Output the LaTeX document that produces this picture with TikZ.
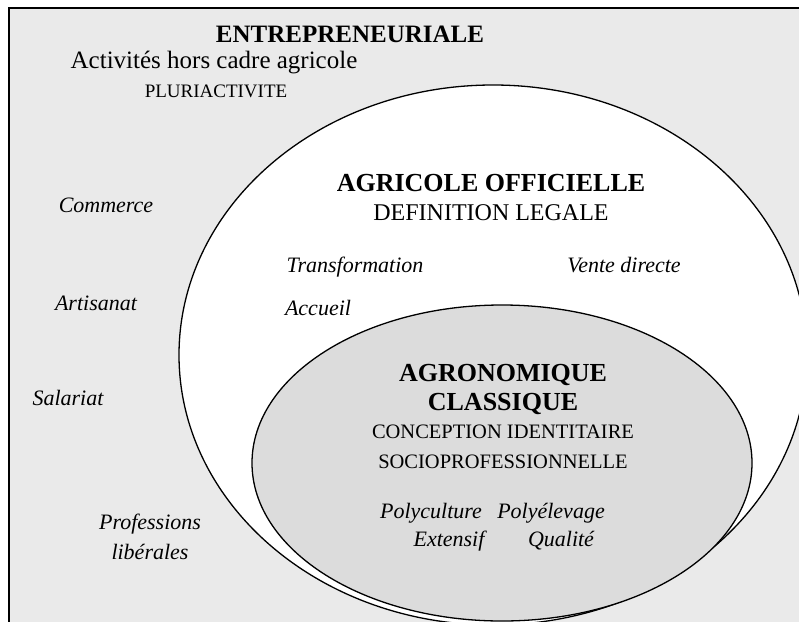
\documentclass[tikz,border=0pt]{standalone}
\usepackage{fontspec}
\setmainfont{Liberation Serif}
\usepackage{tikz}
\definecolor{framegrey}{HTML}{EAEAEA}
\definecolor{coregrey}{HTML}{DCDCDC}
\tikzset{
  zone/.style={draw=black,line width=1.3pt},
  headline/.style={inner sep=0pt,anchor=base,font=\fontsize{26}{29}\selectfont\bfseries},
  subline/.style={inner sep=0pt,anchor=base,font=\fontsize{24}{27}\selectfont},
  smallcaps/.style={inner sep=0pt,anchor=base,font=\fontsize{19}{22}\selectfont},
  activity/.style={inner sep=0pt,anchor=base,font=\fontsize{22}{26}\selectfont\itshape},
}
\begin{document}
\begin{tikzpicture}[x=1pt,y=-1pt]
\useasboundingbox (0,0) rectangle (799,621);
% \draw[help lines,step=50] (0,0) grid (799,621);
\begin{scope}
\clip (0,0) rectangle (799,621);
\draw[zone,fill=framegrey] (9,8) rectangle (830,660);
\draw[zone,fill=white] (493,355) ellipse [x radius=314,y radius=270];
\draw[zone,fill=coregrey] (502,463) ellipse [x radius=250,y radius=158];
\end{scope}
%
\node (entre) [headline,font=\fontsize{25}{28}\selectfont\bfseries] at (350,42) {ENTREPRENEURIALE};
\node (hors) [subline,font=\fontsize{25}{28}\selectfont] at (214,68) {Activités hors cadre agricole};
\node (pluri) [smallcaps] at (216,97) {PLURIACTIVITE};
\node (comm) [activity] at (106,212) {Commerce};
\node (arti) [activity] at (96,310) {Artisanat};
\node (sala) [activity] at (68,405) {Salariat};
\node (prof) [activity] at (150,529) {Professions};
\node (libe) [activity] at (150,559) {libérales};
%
\node (agri) [headline] at (491,191) {AGRICOLE OFFICIELLE};
\node (defi) [subline] at (491,220) {DEFINITION LEGALE};
\node (trans) [activity] at (355,272) {Transformation};
\node (vente) [activity] at (624,272) {Vente directe};
\node (accu) [activity] at (318,315) {Accueil};
%
\node (agro) [headline] at (503,381) {AGRONOMIQUE};
\node (clas) [headline] at (503,410) {CLASSIQUE};
\node (conc) [smallcaps,font=\fontsize{20.5}{23}\selectfont] at (503,438) {CONCEPTION IDENTITAIRE};
\node (socio) [smallcaps,font=\fontsize{20.5}{23}\selectfont] at (503,468) {SOCIOPROFESSIONNELLE};
\node (polyc) [activity] at (431,518) {Polyculture};
\node (polye) [activity] at (551,518) {Polyélevage};
\node (exte) [activity] at (449,546) {Extensif};
\node (qual) [activity] at (561,546) {Qualité};
\end{tikzpicture}
\end{document}
